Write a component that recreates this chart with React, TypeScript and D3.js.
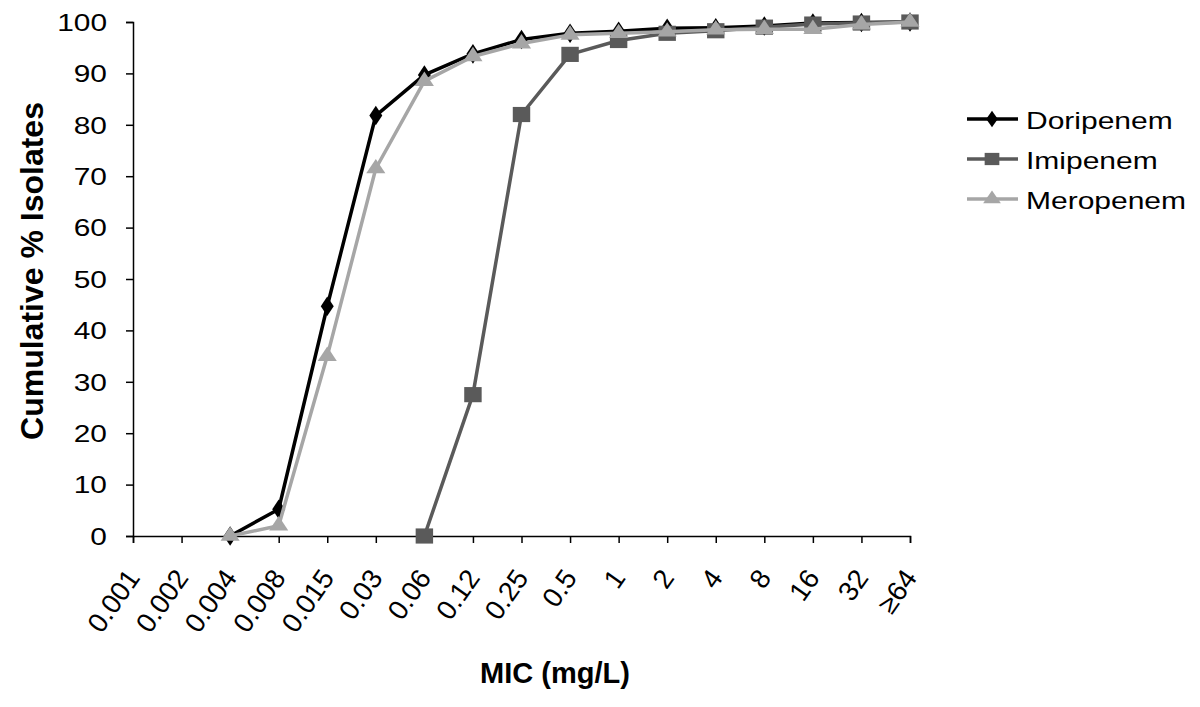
import { useRef, useEffect } from 'react'
import * as d3 from 'd3'

const micLabels = ['0.001', '0.002', '0.004', '0.008', '0.015', '0.03', '0.06', '0.12', '0.25', '0.5', '1', '2', '4', '8', '16', '32', '≥64']
const yTicks = [0, 10, 20, 30, 40, 50, 60, 70, 80, 90, 100]

// cumulative % per MIC step, starting at the first non-empty step
const doripenem = [0, 5.2, 44.7, 81.8, 89.7, 93.8, 96.6, 97.8, 98.2, 98.8, 98.9, 99.2, 99.8, 99.9, 100]
const imipenem = [0, 27.5, 82.0, 93.7, 96.4, 97.8, 98.3, 99.0, 99.6, 99.8, 100]
const meropenem = [0, 2.0, 35.0, 71.5, 88.5, 93.3, 95.8, 97.5, 97.8, 98.1, 98.5, 98.6, 98.6, 99.5, 100]

const seriesNames = ['Doripenem', 'Imipenem', 'Meropenem']
const seriesStart = ['0.004', '0.06', '0.004']
const seriesColors = ['#000000', '#5a5a5a', '#a6a6a6']

function App() {
  const ref = useRef<SVGSVGElement>(null)

  useEffect(() => {
    if (!ref.current) return
    const svg = d3.select(ref.current)
    svg.selectAll('*').remove()

    const width = 1200
    const height = 707
    const margin = { top: 22, right: 290, bottom: 171, left: 133 }

    const x = d3.scalePoint<string>()
      .domain(micLabels)
      .range([margin.left, width - margin.right])
      .padding(0)

    const y = d3.scaleLinear()
      .domain([0, 100])
      .range([height - margin.bottom, margin.top])

    const font = "'Liberation Sans', Arial, sans-serif"

    // Y axis
    const yAxis = svg.append('g')
      .attr('transform', `translate(${margin.left},0)`)
      .call(d3.axisLeft(y).tickValues(yTicks).tickSize(7).tickFormat(() => ''))
    yAxis.select('.domain').attr('stroke', '#000').attr('stroke-width', 1.5)
    yAxis.selectAll('.tick line').attr('stroke', '#000').attr('stroke-width', 1.5)

    svg.append('g')
      .selectAll('g')
      .data(yTicks)
      .enter()
      .append('g')
      .attr('transform', d => `translate(107,${y(d)}) scale(1.22,1)`)
      .append('text')
      .attr('text-anchor', 'end')
      .attr('dy', '0.36em')
      .attr('font-family', font)
      .attr('font-size', 24.5)
      .attr('fill', '#000')
      .text(d => String(d))

    // X axis
    const xAxis = svg.append('g')
      .attr('transform', `translate(0,${y(0)})`)
      .call(d3.axisBottom(x).tickSize(7).tickFormat(() => ''))
    xAxis.select('.domain').attr('stroke', '#000').attr('stroke-width', 1.5)
    xAxis.selectAll('.tick line').attr('stroke', '#000').attr('stroke-width', 1.5)

    svg.append('g')
      .selectAll('text')
      .data(micLabels)
      .enter()
      .append('text')
      .attr('transform', d => `translate(${x(d)! + 8},${y(0) + 42}) rotate(-55)`)
      .attr('text-anchor', 'end')
      .attr('font-family', font)
      .attr('font-size', 27.5)
      .attr('fill', '#000')
      .text(d => d)

    // Axis titles
    svg.append('text')
      .attr('transform', 'translate(43,271) rotate(-90)')
      .attr('text-anchor', 'middle')
      .attr('font-family', font)
      .attr('font-weight', 'bold')
      .attr('font-size', 32)
      .text('Cumulative % Isolates')

    svg.append('text')
      .attr('x', 555)
      .attr('y', 683)
      .attr('text-anchor', 'middle')
      .attr('font-family', font)
      .attr('font-weight', 'bold')
      .attr('font-size', 29)
      .text('MIC (mg/L)')

    const allValues = [doripenem, imipenem, meropenem]
    const symbols = [
      d3.symbol().type(d3.symbolDiamond).size(110),
      d3.symbol().type(d3.symbolSquare).size(230),
      d3.symbol().type(d3.symbolTriangle).size(120)
    ]
    const legendSymbols = [
      d3.symbol().type(d3.symbolDiamond).size(80),
      d3.symbol().type(d3.symbolSquare).size(150),
      d3.symbol().type(d3.symbolTriangle).size(95)
    ]

    const line = d3.line<{ mic: string, v: number }>()
      .x(d => x(d.mic)!)
      .y(d => y(d.v))

    seriesNames.forEach((name, i) => {
      const start = micLabels.indexOf(seriesStart[i])
      const pts = allValues[i].map((v, j) => ({ mic: micLabels[start + j], v }))

      svg.append('path')
        .datum(pts)
        .attr('d', line)
        .attr('fill', 'none')
        .attr('stroke', seriesColors[i])
        .attr('stroke-width', 3.5)
        .attr('stroke-linejoin', 'round')

      svg.append('g')
        .selectAll('path')
        .data(pts)
        .enter()
        .append('path')
        .attr('d', symbols[i]()!)
        .attr('transform', d => `translate(${x(d.mic)},${y(d.v)}) scale(1.15,1)`)
        .attr('fill', seriesColors[i])

      // Legend
      const ly = 119 + i * 40
      const lg = svg.append('g')
      lg.append('line')
        .attr('x1', 967)
        .attr('x2', 1018)
        .attr('y1', ly)
        .attr('y2', ly)
        .attr('stroke', seriesColors[i])
        .attr('stroke-width', 3.5)
      lg.append('path')
        .attr('d', legendSymbols[i]()!)
        .attr('transform', `translate(992,${ly}) scale(1.2,1)`)
        .attr('fill', seriesColors[i])
      lg.append('g')
        .attr('transform', `translate(1026,${ly + 9.5}) scale(1.25,1)`)
        .append('text')
        .attr('font-family', font)
        .attr('font-size', 24)
        .attr('fill', '#000')
        .text(name)
    })
  }, [])

  return (
    <svg
      ref={ref}
      width={1200}
      height={707}
      style={{ position: 'absolute', left: 0, top: 0, background: '#fff' }}
    />
  )
}

export default App
